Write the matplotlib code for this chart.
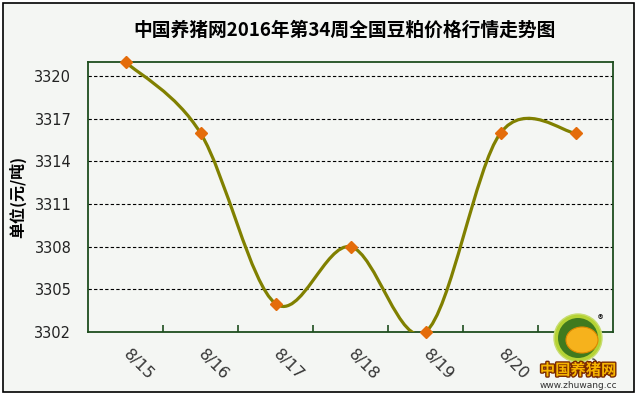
import numpy as np
import matplotlib
matplotlib.use("Agg")
import matplotlib.pyplot as plt
from matplotlib.path import Path
from matplotlib.patches import PathPatch, Rectangle, Ellipse
from matplotlib.transforms import ScaledTranslation
import matplotlib.patheffects as pe

plt.rcParams['font.family'] = ['Noto Sans CJK SC', 'DejaVu Sans']

# data
dates = ['8/15', '8/16', '8/17', '8/18', '8/19', '8/20', '8/21']
prices = [3321, 3316, 3304, 3308, 3302, 3316, 3316]
yticks = [3302, 3305, 3308, 3311, 3314, 3317, 3320]
title = '中国养猪网2016年第34周全国豆粕价格行情走势图'
ylabel = '单位(元/吨)'

W, H, dpi = 639, 395, 100
fig = plt.figure(figsize=(W / dpi, H / dpi), dpi=dpi)
fig.patch.set_facecolor('white')
bg = '#F4F6F3'
fig.patches.append(Rectangle((3 / W, 3 / H), 631 / W, 389 / H, transform=fig.transFigure,
                             facecolor=bg, edgecolor='black', lw=1.2, zorder=-5))

ax = fig.add_axes([88 / W, 63 / H, 525 / W, 270 / H])
ax.set_facecolor(bg)
for s in ax.spines.values():
    s.set_color('#1E4D1E')
    s.set_linewidth(1.3)

x = np.arange(len(prices))
y = np.array(prices, dtype=float)

# excel-like smoothed line (bezier through the points)
px = np.concatenate([[x[0]], x, [x[-1]]])
py = np.concatenate([[y[0]], y, [y[-1]]])
verts = [(x[0], y[0])]
codes = [Path.MOVETO]
for i in range(1, len(px) - 2):
    c1 = (px[i] + (px[i + 1] - px[i - 1]) / 6, py[i] + (py[i + 1] - py[i - 1]) / 6)
    c2 = (px[i + 1] - (px[i + 2] - px[i]) / 6, py[i + 1] - (py[i + 2] - py[i]) / 6)
    verts += [c1, c2, (px[i + 1], py[i + 1])]
    codes += [Path.CURVE4] * 3
ax.add_patch(PathPatch(Path(verts, codes), facecolor='none', edgecolor='#808000', lw=2.3, zorder=3))
ax.plot(x, y, linestyle='none', marker='D', ms=6.5, color='#E46C0A', zorder=4, clip_on=False)

ax.set_xlim(-0.5, len(prices) - 0.5)
ax.set_ylim(3302, 3321)

ax.set_yticks(yticks)
ax.set_yticklabels([str(v) for v in yticks], fontsize=10.5, family='DejaVu Sans', color='#222222')
ax.tick_params(axis='y', length=0, pad=12)
for v in yticks[1:]:
    ax.axhline(v, color='black', lw=0.8, linestyle=(0, (3, 2)), zorder=1)

ax.set_xticks(np.arange(0.5, len(prices) - 1, 1))
ax.set_xticklabels([])
ax.tick_params(axis='x', which='major', direction='in', length=5, color='#1E4D1E', width=1.2)

# rotated date labels, shifted down-right of each category centre
off = ScaledTranslation(13 / dpi, -33 / dpi, fig.dpi_scale_trans)
for xi, d in zip(x, dates):
    ax.text(xi, 0, d, transform=ax.get_xaxis_transform() + off, rotation=-45,
            rotation_mode='anchor', ha='center', va='center', fontsize=11.5,
            family='DejaVu Sans', color='#333333', clip_on=False)

fig.text(345 / W, 1 - 30 / H, title, ha='center', va='center', fontsize=13.5, fontweight='bold')
fig.text(18 / W, 1 - 197 / H, ylabel, ha='center', va='center', rotation=90, fontsize=11.5,
         fontweight='bold')

# logo
cx, cy = 578 / W, 1 - 338 / H
fig.patches.append(Ellipse((cx, cy), 48 / W, 48 / H, transform=fig.transFigure,
                           facecolor='#B5D334', edgecolor='#C8DD70', lw=1, zorder=5))
fig.patches.append(Ellipse((cx, cy), 40 / W, 40 / H, transform=fig.transFigure,
                           facecolor='#3F7A1E', edgecolor='none', zorder=6))
fig.patches.append(Ellipse((cx + 4 / W, cy - 2 / H), 32 / W, 26 / H, transform=fig.transFigure,
                           facecolor='#F6B21C', edgecolor='#E08A00', lw=0.8, zorder=7))
fig.text(600 / W, 1 - 320 / H, '®', fontsize=8, ha='center', va='center', zorder=8)
fig.text(578 / W, 1 - 370 / H, '中国养猪网', fontsize=11, fontweight='bold', color='#F7B500',
         ha='center', va='center', zorder=8,
         path_effects=[pe.withStroke(linewidth=2, foreground='#7A2A00')])
fig.text(578 / W, 1 - 386 / H, 'www.zhuwang.cc', fontsize=6.5, color='#333333',
         ha='center', va='center', family='DejaVu Sans', zorder=8)

fig.savefig('out.png', dpi=dpi, facecolor=fig.get_facecolor())
